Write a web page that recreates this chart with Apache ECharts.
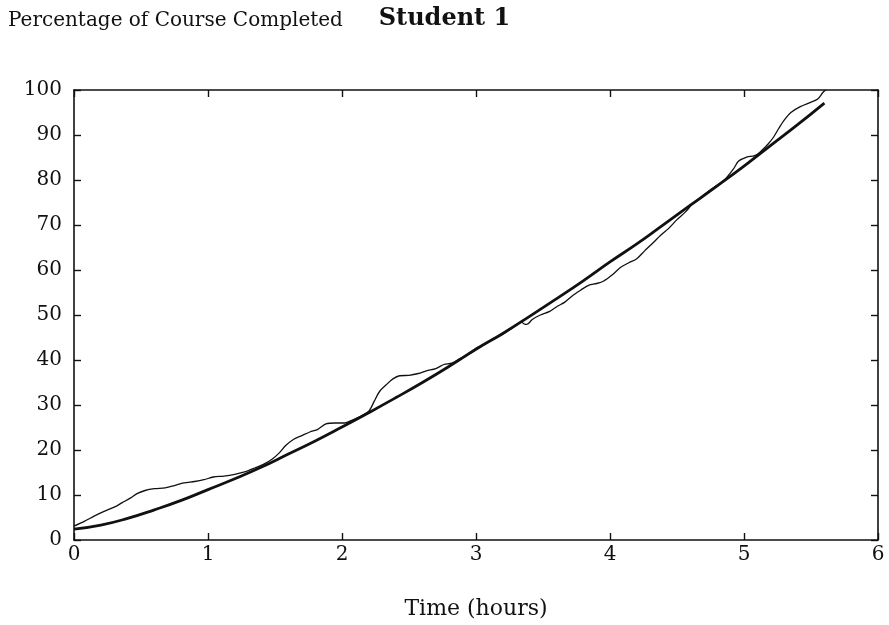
<!DOCTYPE html>
<html>
<head>
<meta charset="utf-8">
<script src="https://cdn.jsdelivr.net/npm/echarts@6/dist/echarts.min.js"></script>
<style>
  html, body { margin: 0; padding: 0; background: #fff; }
  #chart { width: 889px; height: 625px; }
</style>
</head>
<body>
<div id="chart"></div>
<script>
// Observed progress (hours, percent completed)
const observedHours = [
  0.00, 0.08, 0.15, 0.22, 0.30, 0.36, 0.42, 0.47, 0.53, 0.60, 0.68, 0.75, 0.82, 0.90, 0.97,
  1.04, 1.12, 1.20, 1.28, 1.35, 1.42, 1.48, 1.53, 1.58, 1.64, 1.70, 1.76, 1.82, 1.88, 1.95,
  2.02, 2.08, 2.14, 2.20, 2.24, 2.28, 2.33, 2.38, 2.43, 2.50, 2.57, 2.63, 2.70, 2.76, 2.82,
  2.88, 2.94, 3.00, 3.06, 3.12, 3.18, 3.24, 3.30, 3.34, 3.36, 3.38, 3.42, 3.48, 3.55, 3.61,
  3.66, 3.72, 3.78, 3.84, 3.90, 3.95, 4.02, 4.08, 4.14, 4.20, 4.26, 4.32, 4.38, 4.44, 4.50,
  4.56, 4.62, 4.68, 4.74, 4.80, 4.86, 4.92, 4.96, 5.02, 5.08, 5.13, 5.18, 5.22, 5.26, 5.30,
  5.35, 5.42, 5.50, 5.55, 5.59, 5.61
];
const observedPercent = [
  3.1, 4.2, 5.3, 6.3, 7.3, 8.3, 9.3, 10.3, 11.0, 11.4, 11.6, 12.1, 12.7, 13.0, 13.4,
  14.0, 14.2, 14.6, 15.2, 16.0, 16.9, 18.0, 19.3, 21.0, 22.4, 23.2, 24.0, 24.6, 25.8, 26.0,
  26.0, 26.7, 27.5, 28.6, 30.8, 33.0, 34.5, 35.8, 36.5, 36.6, 37.0, 37.6, 38.1, 39.0, 39.3,
  40.3, 41.3, 42.6, 43.4, 44.6, 45.4, 46.5, 47.7, 48.4, 48.0, 47.9, 49.0, 50.0, 50.8, 52.0,
  52.8, 54.3, 55.5, 56.6, 57.0, 57.5, 59.0, 60.6, 61.6, 62.5, 64.3, 66.0, 67.8, 69.3, 71.2,
  72.8, 74.8, 76.2, 77.6, 78.8, 80.2, 82.4, 84.2, 85.1, 85.4, 86.5, 88.0, 89.5, 91.5, 93.3,
  95.0, 96.3, 97.3, 98.0, 99.5, 100.0
];

// Smooth fitted trend (hours, percent completed)
const trendHours = [
  0.0, 0.2, 0.4, 0.6, 0.8, 1.0, 1.2, 1.4, 1.6, 1.8, 2.0, 2.2, 2.4, 2.6, 2.8,
  3.0, 3.2, 3.4, 3.6, 3.8, 4.0, 4.2, 4.4, 4.6, 4.8, 5.0, 5.2, 5.4, 5.6
];
const trendPercent = [
  2.4, 3.3, 4.8, 6.7, 8.8, 11.2, 13.6, 16.2, 19.1, 22.0, 25.1, 28.3, 31.6, 35.0, 38.6,
  42.4, 45.9, 49.7, 53.6, 57.6, 61.8, 65.8, 70.1, 74.4, 78.7, 83.1, 87.7, 92.3, 97.1
];

const xTicks = [0, 1, 2, 3, 4, 5, 6];
const yTicks = [0, 10, 20, 30, 40, 50, 60, 70, 80, 90, 100];

const pair = (xs, ys) => xs.map((x, i) => [x, ys[i]]);
const serif = 'DejaVu Serif';

const axisCommon = {
  axisLine: { show: true, onZero: false, lineStyle: { color: '#111', width: 1.6 } },
  axisTick: { show: true, inside: true, length: 7, lineStyle: { color: '#111', width: 1.4 } },
  splitLine: { show: false }
};

const chart = echarts.init(document.getElementById('chart'), null, { renderer: 'canvas' });
chart.setOption({
  backgroundColor: '#fff',
  animation: false,
  title: [
    {
      text: 'Student 1',
      left: 'center',
      top: 2,
      textStyle: { fontFamily: serif, fontWeight: 'bold', fontSize: 24, color: '#111' }
    },
    {
      text: 'Percentage of Course Completed',
      left: 3,
      top: 6,
      textStyle: { fontFamily: serif, fontWeight: 'normal', fontSize: 20, color: '#111' }
    }
  ],
  grid: { left: 74, right: 11, top: 90, bottom: 83, containLabel: false },
  xAxis: [
    Object.assign({}, axisCommon, {
      type: 'value', min: xTicks[0], max: xTicks[xTicks.length - 1], interval: 1,
      position: 'bottom',
      name: 'Time (hours)', nameLocation: 'middle', nameGap: 58,
      nameTextStyle: { fontFamily: serif, fontSize: 22, color: '#111' },
      axisLabel: { fontFamily: serif, fontSize: 20, color: '#111', margin: 5 }
    }),
    Object.assign({}, axisCommon, {
      type: 'value', min: xTicks[0], max: xTicks[xTicks.length - 1], interval: 1,
      position: 'top', axisLabel: { show: false }
    })
  ],
  yAxis: [
    Object.assign({}, axisCommon, {
      type: 'value', min: yTicks[0], max: yTicks[yTicks.length - 1], interval: 10,
      position: 'left',
      axisLabel: { fontFamily: serif, fontSize: 20, color: '#111', margin: 12 }
    }),
    Object.assign({}, axisCommon, {
      type: 'value', min: yTicks[0], max: yTicks[yTicks.length - 1], interval: 10,
      position: 'right', axisLabel: { show: false }
    })
  ],
  series: [
    {
      name: 'Observed',
      type: 'line',
      data: pair(observedHours, observedPercent),
      smooth: 0.3,
      showSymbol: false,
      lineStyle: { color: '#111', width: 1.3 }
    },
    {
      name: 'Trend',
      type: 'line',
      data: pair(trendHours, trendPercent),
      smooth: true,
      showSymbol: false,
      lineStyle: { color: '#111', width: 2.8 }
    }
  ]
});
</script>
</body>
</html>
